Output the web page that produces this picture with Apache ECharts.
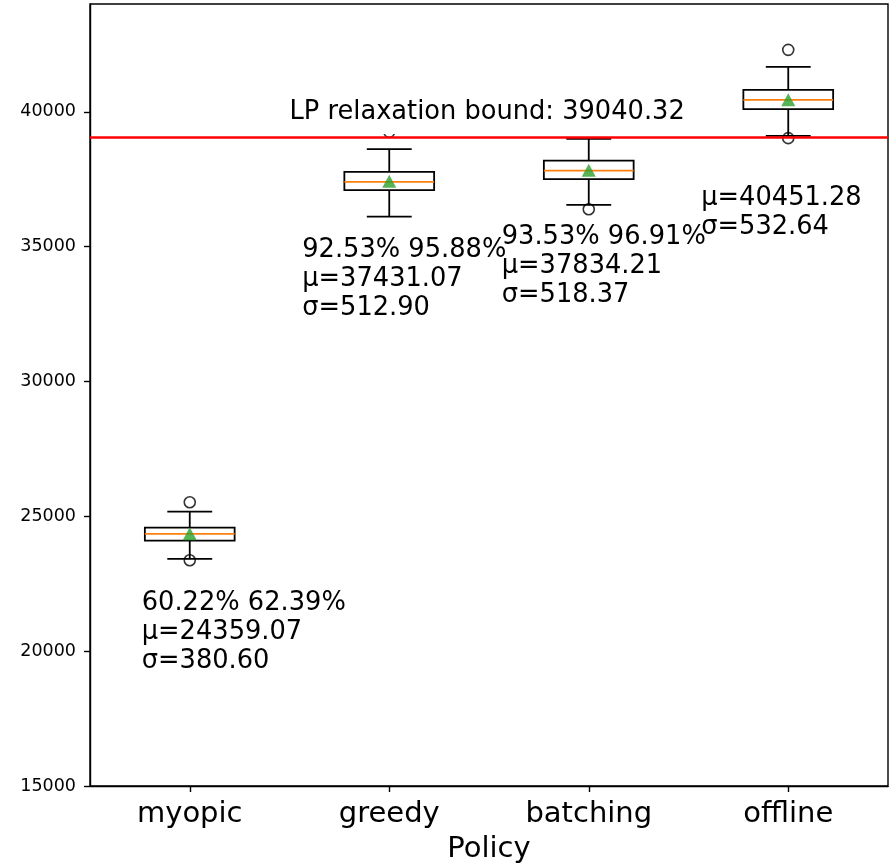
<!DOCTYPE html>
<html><head><meta charset="utf-8">
<script src="https://cdn.jsdelivr.net/npm/echarts@6/dist/echarts.min.js"></script>
<style>html,body{margin:0;padding:0;background:#fff}#c{width:895px;height:865px}</style>
</head><body><div id="c"></div>
<script>
// ---- data ----
const categories = ['myopic', 'greedy', 'batching', 'offline'];
const whiskerLow = [23420, 36117, 36550, 39110];
const quartile1 = [24099, 37096, 37504, 40100];
const medians = [24347, 37404, 37823, 40445];
const quartile3 = [24581, 37774, 38194, 40816];
const whiskerHigh = [25174, 38616, 38999, 41669];
const means = [24359.07, 37431.07, 37834.21, 40451.28];
const stds = [380.60, 512.90, 518.37, 532.64];
const ratioLow = ['60.22%', '92.53%', '93.53%', ''];
const ratioHigh = ['62.39%', '95.88%', '96.91%', ''];
const outlierCategory = [0, 0, 1, 2, 3, 3];
const outlierValues = [25523, 23370, 39258, 36390, 42300, 39025];
const lpBound = 39040.32;
const yTickValues = [15000, 20000, 25000, 30000, 35000, 40000];
const yMin = 15000, yMax = 44000;

// ---- layout (not data) ----
const annotationY = [21760, 34860, 35330, 37880];
const annotationDx = [-48, -87, -87, -87];
const lineGap = 29;
const TXT = 25.7;
const FONT = '"DejaVu Sans", "Liberation Sans", sans-serif';

const boxData = categories.map((c, i) => [i, whiskerLow[i], quartile1[i], medians[i], quartile3[i], whiskerHigh[i]]);
const meanData = categories.map((c, i) => [i, means[i]]);
const outlierData = outlierValues.map((v, i) => [outlierCategory[i], v]);
const annData = categories.map((c, i) => [i, annotationY[i]]);

const chart = echarts.init(document.getElementById('c'), null, {renderer: 'canvas'});
chart.setOption({
  animation: false,
  backgroundColor: '#fff',
  grid: {left: 90, right: 7, top: 4, bottom: 79, show: true, borderColor: '#000', borderWidth: 1.4,
    backgroundColor: 'transparent', containLabel: false, outerBoundsMode: 'none'},
  xAxis: {
    type: 'category', data: categories, boundaryGap: true,
    axisLine: {show: true, lineStyle: {color: '#000', width: 1.4}},
    axisTick: {show: true, alignWithLabel: true, length: 6, lineStyle: {color: '#000', width: 1.4}},
    axisLabel: {color: '#000', fontSize: 29, fontFamily: FONT, margin: 14},
    splitLine: {show: false},
    name: 'Policy', nameLocation: 'middle', nameGap: 49,
    nameTextStyle: {color: '#000', fontSize: 29, fontFamily: FONT}
  },
  yAxis: {
    type: 'value', min: yMin, max: yMax, interval: 5000,
    axisLine: {show: true, lineStyle: {color: '#000', width: 1.4}},
    axisTick: {show: true, length: 6, lineStyle: {color: '#000', width: 1.4}, customValues: yTickValues},
    axisLabel: {color: '#000', fontSize: 17.5, fontFamily: FONT, margin: 14, customValues: yTickValues,
      formatter: v => String(v)},
    splitLine: {show: false}
  },
  series: [
    {
      type: 'custom', name: 'box', z: 2, clip: false,
      encode: {x: 0, y: [1, 2, 3, 4, 5]},
      data: boxData,
      renderItem: function (params, api) {
        const idx = api.value(0);
        const lo = api.value(1), q1 = api.value(2), med = api.value(3), q3 = api.value(4), hi = api.value(5);
        const cx = api.coord([idx, med])[0];
        const bw = api.size([1, 0])[0] * 0.45;
        const y = v => api.coord([idx, v])[1];
        const st = {stroke: '#000', lineWidth: 1.8, fill: null};
        return {type: 'group', children: [
          {type: 'line', shape: {x1: cx, y1: y(q3), x2: cx, y2: y(hi)}, style: st},
          {type: 'line', shape: {x1: cx, y1: y(q1), x2: cx, y2: y(lo)}, style: st},
          {type: 'line', shape: {x1: cx - bw / 4, y1: y(hi), x2: cx + bw / 4, y2: y(hi)}, style: st},
          {type: 'line', shape: {x1: cx - bw / 4, y1: y(lo), x2: cx + bw / 4, y2: y(lo)}, style: st},
          {type: 'rect', shape: {x: cx - bw / 2, y: y(q3), width: bw, height: y(q1) - y(q3)}, style: {stroke: '#000', lineWidth: 1.8, fill: 'rgba(0,0,0,0)'}},
          {type: 'line', shape: {x1: cx - bw / 2, y1: y(med), x2: cx + bw / 2, y2: y(med)}, style: {stroke: '#ff7f0e', lineWidth: 1.8}}
        ]};
      }
    },
    {
      type: 'scatter', name: 'outliers', z: 3,
      data: outlierData, symbol: 'circle', symbolSize: 11,
      itemStyle: {color: 'rgba(0,0,0,0)', borderColor: '#000', borderWidth: 1.6}
    },
    {
      type: 'scatter', name: 'mean', z: 4,
      data: meanData, symbol: 'triangle', symbolSize: [14, 13],
      itemStyle: {color: '#2ca02c'}
    },
    {
      type: 'custom', name: 'annotations', z: 6, clip: false,
      encode: {x: 0, y: 1},
      data: annData,
      renderItem: function (params, api) {
        const i = params.dataIndex;
        const p = api.coord([api.value(0), api.value(1)]);
        const lines = [
          ratioLow[i] ? ratioLow[i] + ' ' + ratioHigh[i] : '',
          '\u03bc=' + means[i].toFixed(2),
          '\u03c3=' + stds[i].toFixed(2)
        ];
        return {type: 'group', children: lines.map((t, k) => ({
          type: 'text', x: p[0] + annotationDx[i], y: p[1] + k * lineGap,
          style: {text: t, fill: '#000', fontSize: TXT, fontFamily: FONT, align: 'left', verticalAlign: 'middle'}
        }))};
      }
    },
    {
      type: 'custom', name: 'lpLabel', z: 7, clip: false,
      encode: {x: 0, y: 1},
      data: [[0, lpBound + 940]],
      renderItem: function (params, api) {
        const p = api.coord([api.value(0), api.value(1)]);
        const half = api.size([1, 0])[0] / 2;
        return {type: 'text', x: p[0] + half - 7, y: p[1],
          style: {text: 'LP relaxation bound: ' + lpBound.toFixed(2), fill: '#000', fontSize: TXT, fontFamily: FONT,
            align: 'left', verticalAlign: 'middle', lineHeight: 29, backgroundColor: '#fff', padding: 7}};
      }
    },
    {
      type: 'line', name: 'lp', z: 8, data: [],
      markLine: {silent: true, symbol: 'none', animation: false,
        label: {show: false},
        lineStyle: {color: '#ff0000', width: 2.6, type: 'solid'},
        data: [{yAxis: lpBound}]}
    }
  ]
});
</script>
</body></html>
